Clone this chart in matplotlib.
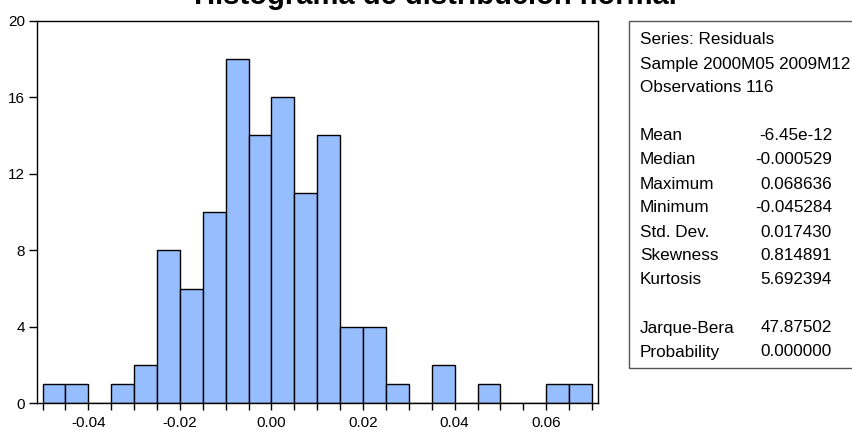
# -*- coding: utf-8 -*-
"""
Histograma de residuos con cuadro de estadisticos (estilo EViews)
"""

import matplotlib.pyplot as plt
from matplotlib.patches import Rectangle
import numpy as np

plt.rcParams['font.family'] = ['Liberation Sans', 'DejaVu Sans']

# Bordes de los intervalos (ancho 0.005) y frecuencias
bin_start = -0.05
bin_width = 0.005
counts = [1, 1, 0, 1, 2, 8, 6, 10, 18, 14, 16, 11, 14, 4, 4, 1, 0, 2, 0, 1,
          0, 0, 1, 1]

xtick_labels = [-0.04, -0.02, 0.00, 0.02, 0.04, 0.06]
ytick_vals = [0, 4, 8, 12, 16, 20]

# Cuadro de estadisticos
header_lines = ['Series: Residuals', 'Sample 2000M05 2009M12',
                'Observations 116']
stat_names = ['Mean', 'Median', 'Maximum', 'Minimum', 'Std. Dev.',
              'Skewness', 'Kurtosis']
stat_values = ['-6.45e-12', '-0.000529', '0.068636', '-0.045284', '0.017430',
               '0.814891', '5.692394']
test_names = ['Jarque-Bera', 'Probability']
test_values = ['47.87502', '0.000000']

title = 'Histograma de distribución normal'

#%%
W, H = 852, 430
fig = plt.figure(figsize=(W / 100, H / 100), dpi=100)
ax = fig.add_axes([37.3 / W, 1 - 403.3 / H, (597.7 - 37.3) / W,
                   (403.3 - 20.7) / H])

left_edges = bin_start + bin_width * np.arange(len(counts))
ax.bar(left_edges, counts, width=bin_width, align='edge',
       color='#96BDFE', edgecolor='black', linewidth=1.0)

ax.set_xlim(-0.05115, 0.07125)
ax.set_ylim(0, 20)

ax.set_xticks(xtick_labels)
ax.set_xticklabels(['%.2f' % v for v in xtick_labels])
ax.set_xticks(bin_start + bin_width * np.arange(len(counts) + 1), minor=True)
ax.set_yticks(ytick_vals)
ax.set_yticklabels([str(v) for v in ytick_vals])

ax.tick_params(axis='x', which='both', direction='out', length=5, width=1,
               labelsize=11, pad=4.5)
ax.tick_params(axis='y', direction='out', length=6, width=1, labelsize=11,
               pad=3)
for sp in ax.spines.values():
    sp.set_linewidth(1.0)
    sp.set_color('black')

# Titulo (cortado arriba, como en la imagen original)
fig.text(435 / W, 1 - 4 / H, title, ha='center', va='baseline',
         fontsize=21, fontweight='bold')

# Cuadro de estadisticos
box = Rectangle((629 / W, 1 - 368 / H), 240 / W, (368 - 21) / H,
                transform=fig.transFigure, facecolor='white',
                edgecolor='#555555', linewidth=1.0)
fig.patches.append(box)

line_h = 24
y0 = 40
rows = [(h, '') for h in header_lines] + [('', '')] + \
       list(zip(stat_names, stat_values)) + [('', '')] + \
       list(zip(test_names, test_values))
for i, (name, val) in enumerate(rows):
    y = 1 - (y0 + i * line_h) / H
    if name:
        fig.text(640 / W, y, name, ha='left', va='center', fontsize=12.3)
    if val:
        fig.text(832 / W, y, val, ha='right', va='center', fontsize=12.3)

plt.savefig('out.png', dpi=100)
